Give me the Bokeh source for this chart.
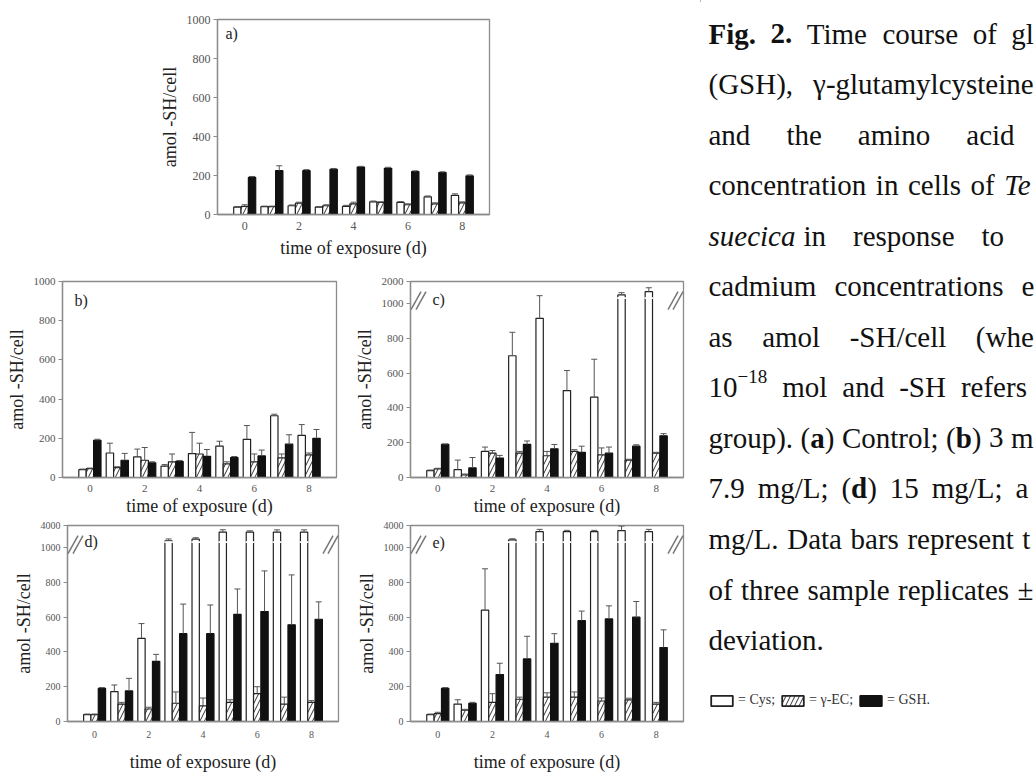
import numpy as np
from bokeh.plotting import figure
from bokeh.layouts import row, column
from bokeh.models import (Range1d, FixedTicker, Whisker, TeeHead, Label, Arrow,
                          Legend, LegendItem, ColumnDataSource)
from bokeh.core.properties import value
from bokeh.embed import file_html
from bokeh.resources import INLINE

# ---------------- data ----------------
days = [0, 1, 2, 3, 4, 5, 6, 7, 8]
x_ticks = [0, 2, 4, 6, 8]
y_ticks = [0, 200, 400, 600, 800, 1000]

# (a) control
a_cys = [38, 40, 45, 38, 42, 65, 62, 90, 98]
a_cys_err = [3, 3, 4, 3, 5, 4, 4, 5, 8]
a_ec = [42, 40, 58, 45, 55, 62, 50, 55, 60]
a_ec_err = [8, 3, 5, 5, 8, 3, 5, 5, 5]
a_gsh = [190, 225, 225, 232, 243, 237, 220, 215, 198]
a_gsh_err = [5, 25, 5, 4, 4, 5, 4, 4, 5]

# (b) 3 mg/L
b_cys = [40, 125, 105, 58, 122, 160, 195, 315, 215]
b_cys_err = [3, 50, 40, 8, 108, 25, 70, 8, 55]
b_ec = [45, 50, 88, 80, 120, 70, 80, 100, 115]
b_ec_err = [3, 5, 65, 40, 55, 10, 40, 20, 10]
b_gsh = [190, 88, 75, 82, 108, 102, 110, 170, 200]
b_gsh_err = [5, 35, 5, 5, 35, 5, 30, 48, 45]

# (c) 7.9 mg/L  (axis broken above 1000, top 2000)
c_top = 2000
c_cys = [40, 45, 150, 700, 915, 500, 462, 1390, 1540]
c_cys_err = [3, 55, 25, 135, 443, 115, 218, 103, 177]
c_ec = [50, 15, 140, 140, 125, 150, 130, 100, 140]
c_ec_err = [3, 5, 15, 10, 25, 10, 40, 5, 5]
c_gsh = [190, 55, 112, 190, 165, 145, 140, 180, 240]
c_gsh_err = [3, 60, 15, 20, 25, 35, 35, 8, 12]

# (d) 15 mg/L  (axis broken above 1000, top 4000)
d_top = 4000
d_cys = [40, 172, 478, 1900, 2140, 3110, 3110, 3110, 3110]
d_cys_err = [3, 38, 85, 270, 200, 310, 170, 300, 300]
d_ec = [40, 100, 72, 105, 90, 110, 160, 100, 110]
d_ec_err = [3, 10, 10, 65, 45, 15, 40, 40, 10]
d_gsh = [190, 176, 346, 505, 505, 616, 632, 556, 588]
d_gsh_err = [5, 72, 40, 170, 165, 146, 234, 287, 100]

# (e) 30 mg/L  (axis broken above 1000, top 4000)
e_top = 4000
e_cys = [40, 100, 640, 2050, 3165, 3165, 3165, 3300, 3165]
e_cys_err = [3, 25, 238, 150, 310, 175, 175, 620, 310]
e_ec = [45, 65, 110, 128, 140, 140, 118, 124, 100]
e_ec_err = [8, 5, 50, 12, 25, 30, 17, 10, 10]
e_gsh = [190, 105, 270, 360, 450, 580, 590, 600, 425]
e_gsh_err = [5, 5, 65, 130, 55, 55, 75, 90, 102]

legend_labels = ["= Cys;", "= \u03b3-EC;", "= GSH."]
x_label = "time of exposure (d)"
y_label = "amol -SH/cell"

# caption: (justified gap px, [(text, style, gap)])  gap "g" = line gap, number = px
caption_lines = [
    (14.5, [("Fig.", "bold", "g"), ("2.", "bold", "g"), ("Time", "normal", "g"),
            ("course", "normal", "g"), ("of", "normal", "g"), ("gl", "normal", "g")]),
    (20.0, [("(GSH),", "normal", "g"), ("\u03b3-glutamylcysteine", "normal", "g")]),
    (36.0, [("and", "normal", "g"), ("the", "normal", "g"), ("amino", "normal", "g"),
            ("acid", "normal", "g")]),
    (9.5, [("concentration", "normal", "g"), ("in", "normal", "g"), ("cells", "normal", "g"),
           ("of", "normal", "g"), ("Te", "italic", "g")]),
    (27.0, [("suecica", "italic", "g"), ("in", "normal", 8), ("response", "normal", "g"),
            ("to", "normal", "g")]),
    (18.0, [("cadmium", "normal", "g"), ("concentrations", "normal", "g"), ("e", "normal", "g")]),
    (29.5, [("as", "normal", "g"), ("amol", "normal", "g"), ("-SH/cell", "normal", "g"),
            ("(whe", "normal", "g")]),
    (15.0, [("10", "normal", "g"), ("\u221218", "sup", 0), ("mol", "normal", "g"),
            ("and", "normal", "g"), ("-SH", "normal", "g"), ("refers", "normal", "g")]),
    (7.5, [("group).", "normal", "g"), ("(", "normal", "g"), ("a", "bold", 0), (")", "normal", 0),
           ("Control;", "normal", "g"), ("(", "normal", "g"), ("b", "bold", 0),
           (")", "normal", 0), ("3", "normal", "g"), ("m", "normal", "g")]),
    (12.9, [("7.9", "normal", "g"), ("mg/L;", "normal", "g"), ("(", "normal", "g"),
            ("d", "bold", 0), (")", "normal", 0), ("15", "normal", "g"),
            ("mg/L;", "normal", "g"), ("a", "normal", "g")]),
    (8.6, [("mg/L.", "normal", "g"), ("Data", "normal", "g"), ("bars", "normal", "g"),
           ("represent", "normal", "g"), ("t", "normal", "g")]),
    (8.4, [("of", "normal", "g"), ("three", "normal", "g"), ("sample", "normal", "g"),
           ("replicates", "normal", "g"), ("\u00b1", "normal", "g")]),
    (0.0, [("deviation.", "normal", "g")]),
]

# ---------------- styling ----------------
BREAK = 1000
BAND = 127          # compressed band above the break (in linear units)
FONT = "Liberation Serif"
AX = "#8c8c8c"
BW = 0.27

STYLES = [
    dict(fill_color="white", line_color="#222"),
    dict(fill_color="white", line_color="#222", hatch_pattern="/",
         hatch_color="#333", hatch_scale=9, hatch_weight=1),
    dict(fill_color="#111", line_color="#111"),
]


def tf(v, top):
    v = np.asarray(v, dtype=float)
    if top is None:
        return v
    k = BAND / (top - BREAK)
    return np.where(v <= BREAK, v, BREAK + (v - BREAK) * k)


def panel(tag, series, top, w, h, bl, br, bt, bb, tick_size, lab_off, lstand, xstand):
    fw, fh = w - bl - br, h - bt - bb
    ymax = 1000 if top is None else BREAK + BAND
    p = figure(width=w, height=h, x_range=Range1d(-1, 9), y_range=Range1d(0, ymax),
               output_backend="svg", toolbar_location=None,
               min_border_left=bl, min_border_right=br,
               min_border_top=bt, min_border_bottom=bb)
    x = np.array(days, dtype=float)
    offs = [-BW, 0.0, BW]
    for (vals, errs), off, st in zip(series, offs, STYLES):
        v = np.asarray(vals, float)
        e = np.asarray(errs, float)
        src = ColumnDataSource(dict(x=x + off, top=tf(v, top),
                                    lo=tf(v, top), hi=tf(v + e, top)))
        p.vbar(x="x", top="top", bottom=0, width=BW, source=src, line_width=1.2, **st)
        p.add_layout(Whisker(source=src, base="x", lower="lo", upper="hi",
                             dimension="height", line_color="#555", line_width=1,
                             upper_head=TeeHead(size=6, line_color="#555", line_width=1),
                             lower_head=None, level="annotation"))
    if top is not None:
        cys = np.asarray(series[0][0], float)
        big = cys > BREAK
        if big.any():
            gsrc = ColumnDataSource(dict(x=(x - BW)[big]))
            p.vbar(x="x", bottom=BREAK + 26, top=BREAK + 37, width=BW + 0.05,
                   source=gsrc, fill_color="white", line_color=None)
        # axis-break marks "//" (kept just inside the frame so they are not clipped)
        ux = 10.0 / fw
        uy = ymax / fh
        for xe, sgn in ((-1, 1), (9, -1)):
            for off in (5.5, 10.5):
                cx = xe + sgn * off * ux
                cy = BREAK + 3 * uy
                p.add_layout(Arrow(end=None, start=None,
                                   x_start=cx - 5 * ux, y_start=cy - 9 * uy,
                                   x_end=cx + 5 * ux, y_end=cy + 9 * uy,
                                   line_color="#777", line_width=1.5,
                                   level="overlay"))
    p.add_layout(Label(x=-1, y=ymax, x_offset=lab_off[0], y_offset=-lab_off[1],
                       text=tag, text_font=FONT, text_font_size="16px",
                       text_baseline="middle", text_color="#222"))

    p.xaxis.ticker = FixedTicker(ticks=x_ticks)
    if top is None:
        p.yaxis.ticker = FixedTicker(ticks=y_ticks)
    else:
        p.yaxis.ticker = FixedTicker(ticks=y_ticks + [BREAK + BAND])
        p.yaxis.major_label_overrides = {BREAK + BAND: str(top)}
    p.xaxis.axis_label = x_label
    p.yaxis.axis_label = y_label
    p.xgrid.visible = False
    p.ygrid.visible = False
    p.outline_line_color = AX
    p.outline_line_width = 1.3
    for ax in (p.xaxis[0], p.yaxis[0]):
        ax.axis_line_color = AX
        ax.axis_line_width = 1.3
        ax.major_tick_line_color = AX
        ax.minor_tick_line_color = None
        ax.major_label_text_font = FONT
        ax.major_label_text_font_size = tick_size
        ax.major_label_text_color = "#555"
        ax.axis_label_text_font = FONT
        ax.axis_label_text_font_size = "18px"
        ax.axis_label_text_font_style = "normal"
        ax.axis_label_text_color = "#222"
    p.xaxis.major_tick_out = 0
    p.xaxis.major_tick_in = 0
    p.yaxis.major_tick_out = 4
    p.yaxis.major_tick_in = 0
    p.xaxis.major_label_standoff = lstand
    p.xaxis.axis_label_standoff = xstand
    p.yaxis.major_label_standoff = 3
    p.yaxis.axis_label_standoff = 4
    p.background_fill_color = "white"
    p.border_fill_color = "white"
    return p


pa = panel("a)", [(a_cys, a_cys_err), (a_ec, a_ec_err), (a_gsh, a_gsh_err)], None,
           700, 260, 217, 211, 19, 44, "12px", (8, 14), 7, 5)
pb = panel("b)", [(b_cys, b_cys_err), (b_ec, b_ec_err), (b_gsh, b_gsh_err)], None,
           350, 260, 62, 14, 21, 43, "11px", (12, 19), 7, 1)
pc = panel("c)", [(c_cys, c_cys_err), (c_ec, c_ec_err), (c_gsh, c_gsh_err)], c_top,
           350, 260, 60, 17, 20, 43, "11px", (22, 18), 7, 1)
pd = panel("d)", [(d_cys, d_cys_err), (d_ec, d_ec_err), (d_gsh, d_gsh_err)], d_top,
           350, 254, 67, 12, 5, 51, "10px", (17, 16), 9, 11)
pe = panel("e)", [(e_cys, e_cys_err), (e_ec, e_ec_err), (e_gsh, e_gsh_err)], e_top,
           350, 254, 60, 17, 5, 51, "10px", (22, 17), 9, 11)

# ---------------- caption ----------------
W_REG = {" ": 250, "(": 333, ")": 333, ",": 250, "-": 333, ".": 250, "/": 278, ";": 278,
         "0": 500, "1": 500, "2": 500, "3": 500, "5": 500, "7": 500, "8": 500, "9": 500,
         "C": 667, "D": 722, "G": 722, "H": 722, "L": 611, "S": 556, "T": 611,
         "a": 444, "b": 500, "c": 444, "d": 500, "e": 444, "f": 333, "g": 500, "h": 500,
         "i": 278, "l": 278, "m": 778, "n": 500, "o": 500, "p": 500, "r": 333, "s": 389,
         "t": 278, "u": 500, "v": 500, "x": 500, "y": 500, "\u00b1": 564, "\u03b3": 450,
         "\u2212": 564}
W_BOLD = {"F": 611, "i": 278, "g": 500, ".": 250, "2": 500, "a": 500, "b": 556, "d": 556}
W_ITAL = {"T": 556, "e": 444, "t": 278, "r": 389, "a": 500, "s": 389, "l": 278, "m": 722,
          "i": 278, "u": 500, "c": 444}
CAP_SIZE = 29
SUP_SIZE = 19
X0, L0, LS = 708.0, 33.0, 50.55


def tw(s, style):
    if style == "sup":
        return sum(W_REG.get(ch, 500) for ch in s) * SUP_SIZE / 1000.0
    table = {"normal": W_REG, "bold": W_BOLD, "italic": W_ITAL}[style]
    return sum(table.get(ch, W_REG.get(ch, 500)) for ch in s) * CAP_SIZE / 1000.0


placed = {"normal": [], "bold": [], "italic": [], "sup": []}
for li, (g, toks) in enumerate(caption_lines):
    xcur = X0
    for ti, (txt, style, gap) in enumerate(toks):
        if ti > 0:
            xcur += g if gap == "g" else gap
        placed[style].append((xcur, L0 + LS * li, txt))
        xcur += tw(txt, style)

cap = figure(width=335, height=774, x_range=Range1d(700, 1035), y_range=Range1d(774, 0),
             output_backend="svg", toolbar_location=None, min_border=0,
             x_axis_location=None, y_axis_location=None)
cap.outline_line_color = None
cap.xgrid.visible = False
cap.ygrid.visible = False

for style in ("normal", "bold", "italic"):
    sel = placed[style]
    src = ColumnDataSource(dict(x=[s[0] for s in sel], y=[s[1] for s in sel],
                                t=[s[2] for s in sel]))
    cap.text(x="x", y="y", text="t", source=src, text_font=value(FONT),
             text_font_size=value("%dpx" % CAP_SIZE), text_font_style=style,
             text_baseline="middle", text_align="left", text_color="#111")
sel = placed["sup"]
cap.text(x=[s[0] for s in sel], y=[s[1] - 11 for s in sel], text=[s[2] for s in sel],
         text_font=value(FONT), text_font_size=value("%dpx" % SUP_SIZE),
         text_baseline="middle", text_align="left", text_color="#111")

# legend line (sample glyphs sit outside the visible range)
r1 = cap.vbar(x=[0], top=[0], width=1, line_width=1.8, **STYLES[0])
r2 = cap.vbar(x=[0], top=[0], width=1, line_width=1.8, **STYLES[1])
r3 = cap.vbar(x=[0], top=[0], width=1, line_width=1.8, **STYLES[2])
leg = Legend(items=[LegendItem(label=legend_labels[0], renderers=[r1]),
                    LegendItem(label=legend_labels[1], renderers=[r2]),
                    LegendItem(label=legend_labels[2], renderers=[r3])],
             orientation="horizontal", location=(8, 66), glyph_width=27, glyph_height=13,
             label_height=13, label_standoff=3, spacing=4, padding=0, margin=0,
             border_line_color=None, background_fill_alpha=0,
             label_text_font=FONT, label_text_font_size="14px", label_text_color="#333")
cap.add_layout(leg)

layout = row(column(pa, row(pb, pc), row(pd, pe)), cap)
open("out.html", "w").write(file_html(layout, INLINE))
